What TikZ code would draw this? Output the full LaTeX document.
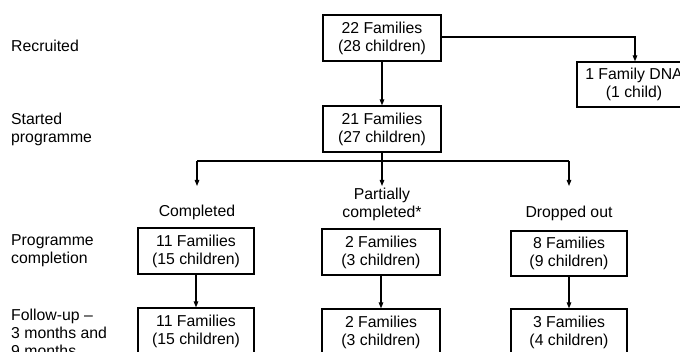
\documentclass[tikz,border=0pt]{standalone}
\usepackage{fontspec}
\setmainfont{Liberation Sans}
\usetikzlibrary{arrows.meta}
\begin{document}
\begin{tikzpicture}[x=1pt,y=-1pt,
  every node/.style={font=\fontsize{15.8}{18}\selectfont, inner sep=0pt},
  famBox/.style={draw, line width=1.2pt, align=center, minimum width=118pt, minimum height=46pt},
  rowLabel/.style={anchor=west, align=left},
  link/.style={line width=1.2pt},
  flow/.style={link, -{Triangle[length=6pt,width=4.5pt]}}]
\useasboundingbox (0,0) rectangle (680,352);
\clip (0,0) rectangle (680,352);

% stage labels on the left
\node[rowLabel] (lRec) at (11,46) {Recruited};
\node[rowLabel] (lStart) at (11,129) {Started\\programme};
\node[rowLabel] (lComp) at (11,251) {Programme\\completion};
\node[rowLabel] (lFol) at (11,333) {Follow-up –\\3 months and\\9 months};

% family boxes
\node[famBox] (rec) at (382,38) {22 Families\\(28 children)};
\node[famBox, minimum width=114pt, minimum height=45pt] (dna) at (634,84.5) {1 Family DNA\\(1 child)};
\node[famBox] (start) at (382,129) {21 Families\\(27 children)};
\node[famBox, minimum width=116pt] (comp) at (196,251) {11 Families\\(15 children)};
\node[famBox] (part) at (381,252) {2 Families\\(3 children)};
\node[famBox, minimum width=116pt, minimum height=45pt] (drop) at (569,253.5) {8 Families\\(9 children)};
\node[famBox, minimum width=116pt] (compF) at (196,331) {11 Families\\(15 children)};
\node[famBox] (partF) at (381,332) {2 Families\\(3 children)};
\node[famBox, minimum width=116pt] (dropF) at (569,332) {3 Families\\(4 children)};

% group headings
\node (hComp) at (197,212) {Completed};
\node[align=center] (hPart) at (382,204) {Partially\\completed*};
\node (hDrop) at (569,213) {Dropped out};

% branching points
\coordinate (split) at (382,161);
\coordinate (sL) at (197,161);
\coordinate (sR) at (569,161);
\coordinate (eL) at (197,186);
\coordinate (eM) at (382,186);
\coordinate (eR) at (569,186);
\coordinate (dnaTurn) at (635,37);

% connectors
\draw[flow] (rec.east |- dnaTurn) -- (dnaTurn) -- (dna.north -| dnaTurn);
\draw[flow] (rec) -- (start);
\draw[link] (start.south) -- (split);
\draw[flow] (sL) -- (eL);
\draw[link] (sL) -- (sR);
\draw[flow] (split) -- (eM);
\draw[flow] (sR) -- (eR);
\draw[flow] (comp) -- (compF);
\draw[flow] (part) -- (partF);
\draw[flow] (drop) -- (dropF);
\end{tikzpicture}
\end{document}
